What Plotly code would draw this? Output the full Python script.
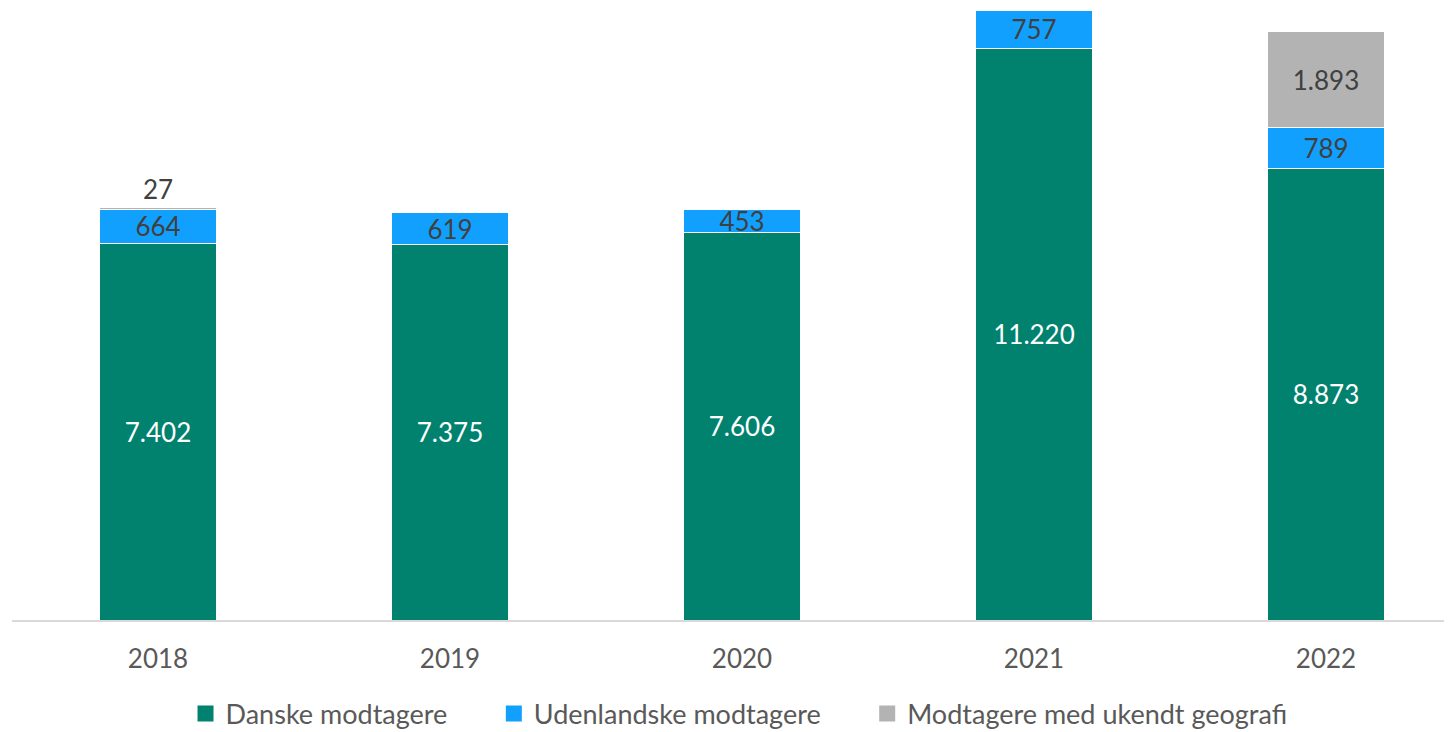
import plotly.graph_objects as go

years = ["2018", "2019", "2020", "2021", "2022"]
danske = [7402, 7375, 7606, 11220, 8873]
udenlandske = [664, 619, 453, 757, 789]
ukendt = [27, None, None, None, 1893]

names = ["Danske modtagere", "Udenlandske modtagere", "Modtagere med ukendt geografi"]
colors = ["#00826F", "#12A0FF", "#B3B3B3"]

def fmt(v):
    return "" if v is None else f"{v:,}".replace(",", ".")

FONT = "Lato"
FS = 26
fig = go.Figure()
fig.add_trace(go.Bar(
    x=years, y=danske, name=names[0], showlegend=False,
    marker=dict(color=colors[0], line=dict(color="white", width=1)),
    text=[fmt(v) for v in danske], textposition="inside", insidetextanchor="middle",
    textfont=dict(color="white", size=FS, family=FONT), constraintext="none",
))
fig.add_trace(go.Bar(
    x=years, y=udenlandske, name=names[1], showlegend=False,
    marker=dict(color=colors[1], line=dict(color="white", width=1)),
    text=[fmt(v) for v in udenlandske], textposition="inside", insidetextanchor="middle",
    textfont=dict(color="#404040", size=FS, family=FONT), constraintext="none",
))
fig.add_trace(go.Bar(
    x=years, y=ukendt, name=names[2], showlegend=False,
    marker=dict(color=colors[2], line=dict(color="white", width=1)),
    text=[fmt(v) for v in ukendt],
    textposition=["outside", "inside", "inside", "inside", "inside"],
    insidetextanchor="middle",
    textfont=dict(color="#404040", size=FS, family=FONT), constraintext="none",
    cliponaxis=False,
))
# legend entries with larger square symbols
pads = ["\u00a0" * 6, "\u00a0" * 6, ""]
for n, c, p in zip(names, colors, pads):
    fig.add_trace(go.Scatter(
        x=[None], y=[None], mode="markers", name=n + p,
        marker=dict(symbol="square", size=17, color=c),
    ))

fig.update_layout(
    barmode="stack", bargap=0.6,
    width=1444, height=724,
    margin=dict(l=4, r=0, t=0, b=112, autoexpand=False),
    plot_bgcolor="white", paper_bgcolor="white",
    font=dict(family=FONT, size=FS, color="#595959"),
    xaxis=dict(range=[-0.5, -0.5 + 1440 / 292], showline=True, linecolor="#D9D9D9",
               linewidth=2, ticks="", tickfont=dict(size=FS, color="#595959"),
               ticklabelstandoff=15),
    yaxis=dict(range=[0, 12017], visible=False, showgrid=False),
    legend=dict(orientation="h", x=0.1205, xanchor="left", y=-0.1536, yanchor="middle",
                font=dict(size=27, color="#595959"), itemwidth=30,
                traceorder="normal"),
    showlegend=True,
)
fig.write_html("out.html")
